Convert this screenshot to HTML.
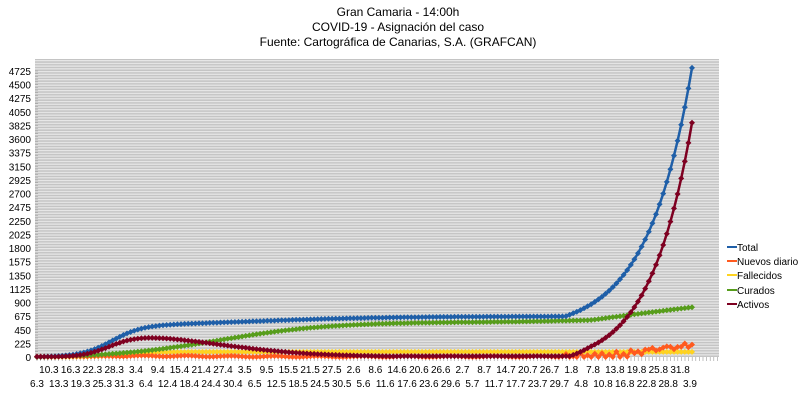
<!DOCTYPE html>
<html><head><meta charset="utf-8"><style>
html,body{margin:0;padding:0;background:#fff;width:800px;height:403px;overflow:hidden}
svg{display:block;font-family:"Liberation Sans",sans-serif}
</style></head><body>
<svg id="s" width="800" height="403" xmlns="http://www.w3.org/2000/svg">
<defs>
<pattern id="g" width="10" height="2.724" patternUnits="userSpaceOnUse" y="357">
<rect width="10" height="2.724" fill="#c4c4c4"/><rect width="10" height="1.2" fill="#e8e8e8"/>
</pattern>
</defs>
<g font-size="12" fill="#000" text-anchor="middle">
<text x="398" y="16">Gran Camaria - 14:00h</text>
<text x="398" y="31">COVID-19 - Asignación del caso</text>
<text x="398" y="46">Fuente: Cartográfica de Canarias, S.A. (GRAFCAN)</text>
</g>
<rect x="35" y="59" width="684" height="298" fill="url(#g)"/>
<g id="ax"></g>
<g id="series"></g>
<g font-size="10" fill="#000">
<g stroke-width="2"><line x1="727" y1="247" x2="737" y2="247" stroke="#1f5fa8"/><line x1="727" y1="261" x2="737" y2="261" stroke="#ff5a1f"/><line x1="727" y1="275" x2="737" y2="275" stroke="#ffd320"/><line x1="727" y1="290" x2="737" y2="290" stroke="#579d1c"/><line x1="727" y1="304" x2="737" y2="304" stroke="#7e0021"/></g>
<text x="737" y="251">Total</text><text x="737" y="265">Nuevos diario</text><text x="737" y="279">Fallecidos</text><text x="737" y="294">Curados</text><text x="737" y="308">Activos</text>
</g>
</svg>
<script>
var NS="http://www.w3.org/2000/svg",ax=document.getElementById("ax"),se=document.getElementById("series");
function el(t,a,p,txt){var e=document.createElementNS(NS,t);for(var k in a)e.setAttribute(k,a[k]);if(txt!=null)e.textContent=txt;p.appendChild(e);return e;}
function Y(v){return 357-v*286/4725;}
for(var i=0;i<=21;i++){var v=i*225;el("text",{x:31,y:Y(v)+4,"text-anchor":"end","font-size":"10"},ax,String(v));}
for(var i=0;i<=105;i++){el("line",{x1:35,x2:38,y1:Y(i*45),y2:Y(i*45),stroke:"#999","stroke-width":0.6},ax);}
var topL=["10.3","16.3","22.3","28.3","3.4","9.4","15.4","21.4","27.4","3.5","9.5","15.5","21.5","27.5","2.6","8.6","14.6","20.6","26.6","2.7","8.7","14.7","20.7","26.7","1.8","7.8","13.8","19.8","25.8","31.8"];
var botL=["6.3","13.3","19.3","25.3","31.3","6.4","12.4","18.4","24.4","30.4","6.5","12.5","18.5","24.5","30.5","5.6","11.6","17.6","23.6","29.6","5.7","11.7","17.7","23.7","29.7","4.8","10.8","16.8","22.8","28.8","3.9"];
var st=(690-37)/60;
for(var k=0;k<=60;k++){var x=37+k*st;if(k%2==0)el("text",{x:x,y:387,"text-anchor":"middle","font-size":"10"},ax,botL[k/2]);else el("text",{x:x+1,y:373,"text-anchor":"middle","font-size":"10"},ax,topL[(k-1)/2]);}
for(var x=37;x<719;x+=3.6)el("line",{x1:x,x2:x,y1:357,y2:361,stroke:"#999","stroke-width":0.6},ax);
function sig(x,c,w){return 1/(1+Math.exp(-(x-c)/w));}
var N=183,xs=[];for(var i=0;i<N;i++)xs.push(37+i*(692-37)/(N-1));
function total(x){var v=510*sig(x,112,15)+170*sig(x,250,70)-170*sig(37,250,70);if(x>565)v+=250*(Math.exp(0.0225*(x-565))-1);return Math.max(0,v);}
function cur(x){var v=600*sig(x,220,55)+40*sig(x,560,30)+(x>590?2*(x-590):0);return Math.max(0,v-600*sig(37,220,55));}
function fal(x){return 85*sig(x,125,15);}
function act(x){var v=total(x)-cur(x)-fal(x);if(x>400&&x<575)v=Math.max(v,15);return Math.max(0,v);}
function nue(x){if(x<560)return 8+8*Math.sin(x/7)*sig(x,100,10)+10*sig(x,100,10)*(1-sig(x,200,20));var b=8+160*sig(x,640,12)+60*sig(x,690,5);return b+40*Math.sin(x*0.9)+25*Math.sin(x*0.37);}
var S=[[fal,"#ffd320"],[nue,"#ff5a1f"],[cur,"#579d1c"],[total,"#1f5fa8"],[act,"#7e0021"]];
S.forEach(function(s){var pts=xs.map(function(x){return x.toFixed(1)+","+Y(Math.max(0,s[0](x))).toFixed(1);});
el("polyline",{points:pts.join(" "),fill:"none",stroke:s[1],"stroke-width":2.5},se);
var d="";xs.forEach(function(x){var y=Y(Math.max(0,s[0](x)));d+="M"+x.toFixed(1)+" "+(y-3).toFixed(1)+"l3 3l-3 3l-3 -3z";});
el("path",{d:d,fill:s[1]},se);});
</script>
</body></html>
